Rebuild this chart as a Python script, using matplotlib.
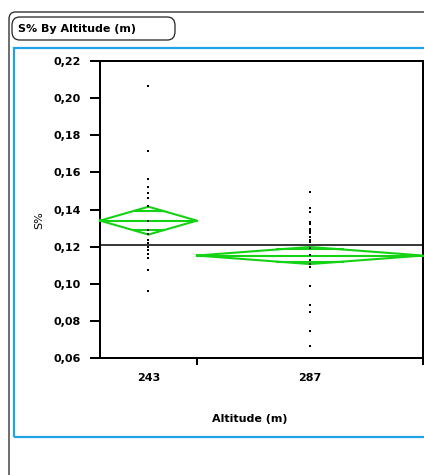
import numpy as np
import matplotlib
matplotlib.use('Agg')
import matplotlib.pyplot as plt
from matplotlib.patches import FancyBboxPatch, Rectangle
from matplotlib.ticker import FixedLocator, FuncFormatter

plt.rc('font', family='DejaVu Sans', size=8)
plt.rc('axes', linewidth=1.44)

# one-way data: S% by altitude
groups = ["243", "287"]
group_n = [18, 42]
s_243 = [0.2065, 0.1716, 0.1564, 0.1522, 0.1487, 0.1463, 0.1418, 0.1337, 0.1289,
         0.1267, 0.1238, 0.1217, 0.1199, 0.1181, 0.1159, 0.1138, 0.1073, 0.0962]
s_287 = [0.1492, 0.1406, 0.1386, 0.1334, 0.1321, 0.1293, 0.1282, 0.1271, 0.1250,
         0.1235, 0.1223, 0.1190, 0.1154, 0.1127, 0.1105, 0.1088, 0.0987, 0.0885,
         0.0849, 0.0743, 0.0665]
group_mean = [0.1340, 0.1152]
group_ci = [0.0075, 0.0046]     # 95% half width of the means diamonds
y_ticks = [0.06, 0.08, 0.10, 0.12, 0.14, 0.16, 0.18, 0.20, 0.22]

W, H = 424, 475
green = '#14d214'
blue = '#1fa3e6'


def fx(px):
    return px / W


def fy(py):
    return 1 - py / H


fig = plt.figure(figsize=(W / 100, H / 100), dpi=100)

# outer report frame, blue outline box and the title box
fig.patches.append(FancyBboxPatch((fx(9), fy(490)), fx(440) - fx(9), fy(12) - fy(490),
                                  boxstyle='round,pad=0,rounding_size=0.015',
                                  transform=fig.transFigure, fill=False,
                                  edgecolor='#333333', linewidth=1.0))
fig.patches.append(Rectangle((fx(14), fy(437)), fx(440) - fx(14), fy(48) - fy(437),
                             transform=fig.transFigure, fill=False,
                             edgecolor=blue, linewidth=1.6))
fig.patches.append(FancyBboxPatch((fx(12), fy(40)), fx(175) - fx(12), fy(17) - fy(40),
                                  boxstyle='round,pad=0,rounding_size=0.018',
                                  transform=fig.transFigure, fill=False,
                                  edgecolor='#222222', linewidth=0.9))
fig.text(fx(18), fy(29), 'S% By Altitude (m)', fontweight='bold', fontsize=8,
         ha='left', va='center')

ax = fig.add_axes([fx(100), fy(358), fx(423) - fx(100), fy(61) - fy(358)])

edges = np.concatenate([[0], np.cumsum(group_n)])
centers = (edges[:-1] + edges[1:]) / 2
grand_mean = np.dot(group_n, group_mean) / np.sum(group_n)

for i, vals in enumerate([s_243, s_287]):
    ax.plot([centers[i]] * len(vals), vals, 's', color='black', markersize=1.7,
            markeredgewidth=0, zorder=4)

    x0, x1, xc = edges[i], edges[i + 1], centers[i]
    m, c = group_mean[i], group_ci[i]
    # means diamond
    ax.plot([x0, xc, x1, xc, x0], [m, m + c, m, m - c, m], color=green, lw=1.5,
            zorder=3, solid_joinstyle='miter', clip_on=False)
    ax.plot([x0, x1], [m, m], color=green, lw=1.5, zorder=3, clip_on=False)
    # overlap marks
    f = np.sqrt(2) / 2
    half = (1 - f) * (x1 - x0) / 2
    for s in (1, -1):
        ax.plot([xc - half, xc + half], [m + s * f * c] * 2, color=green, lw=1.5, zorder=3)

ax.axhline(grand_mean, color='black', lw=1.1, zorder=2)

ax.set_xlim(edges[0], edges[-1])
ax.set_ylim(y_ticks[0], y_ticks[-1])

ax.yaxis.set_major_locator(FixedLocator(y_ticks))
ax.yaxis.set_major_formatter(FuncFormatter(lambda v, p: ('%.2f' % v).replace('.', ',')))
ax.tick_params(axis='y', direction='out', length=7, width=1.44, pad=6.5,
               labelsize=8)
for lab in ax.get_yticklabels():
    lab.set_fontweight('bold')

ax.xaxis.set_major_locator(FixedLocator(edges[1:]))
ax.xaxis.set_major_formatter(FuncFormatter(lambda v, p: ''))
ax.xaxis.set_minor_locator(FixedLocator(centers))
ax.xaxis.set_minor_formatter(FuncFormatter(lambda v, p: groups[int(np.argmin(np.abs(centers - v)))]))
ax.tick_params(axis='x', which='major', direction='out', length=5, width=1.44)
ax.tick_params(axis='x', which='minor', length=0, pad=11, labelsize=8)
for lab in ax.get_xticklabels(minor=True):
    lab.set_fontweight('bold')

fig.text(fx(250), fy(419), 'Altitude (m)', fontweight='bold', fontsize=8,
         ha='center', va='center')
fig.text(fx(39.5), fy(220), 'S%', fontsize=8, rotation=90, ha='center', va='center')

plt.savefig('out.png', dpi=100)
plt.close()
